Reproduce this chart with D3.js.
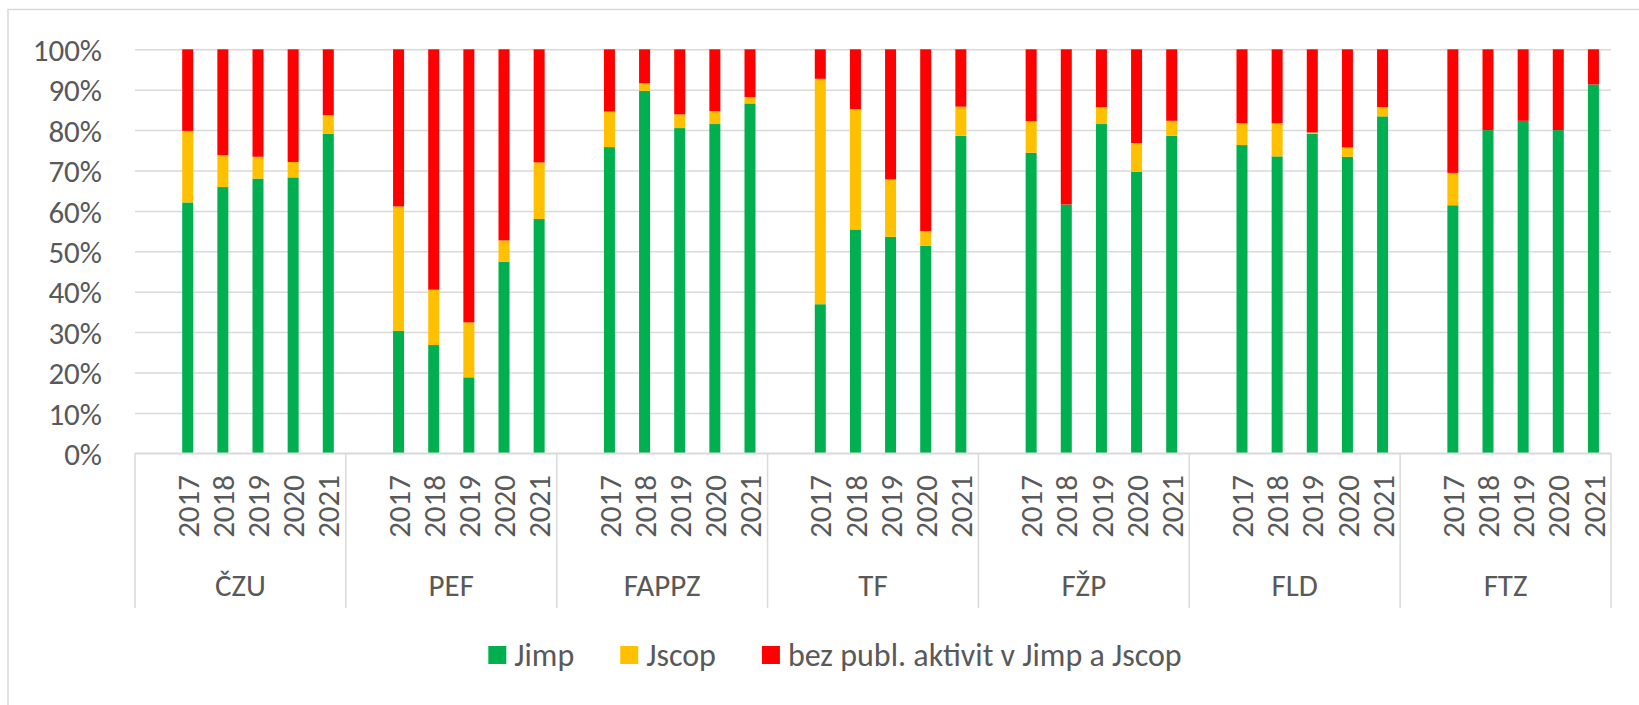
<!DOCTYPE html>
<html>
<head>
<meta charset="utf-8">
<script src="https://cdn.jsdelivr.net/npm/d3@7"></script>
<style>
  html, body { margin: 0; padding: 0; background: #fff; }
  svg { display: block; }
  text { font-family: Carlito, Lato, "Open Sans", sans-serif; fill: #595959; }
</style>
</head>
<body>
<svg id="chart"></svg>
<script>
// faculties (outer categories) and years (inner categories)
const faculties = ["ČZU", "PEF", "FAPPZ", "TF", "FŽP", "FLD", "FTZ"];
const years = ["2017", "2018", "2019", "2020", "2021"];

// share of staff in %, one row per faculty, one value per year
const jimp = [
  [62.1, 65.9, 68.0, 68.3, 79.1],
  [30.3, 26.8, 18.8, 47.4, 58.0],
  [75.8, 89.7, 80.5, 81.5, 86.6],
  [36.9, 55.4, 53.6, 51.4, 78.6],
  [74.4, 61.6, 81.5, 69.7, 78.6],
  [76.3, 73.5, 79.2, 73.4, 83.4],
  [61.4, 80.0, 82.3, 80.0, 91.3]
];
const jscop = [
  [17.7, 7.9, 5.4, 3.8, 4.6],
  [30.8, 13.7, 13.6, 5.3, 14.0],
  [8.8, 1.9, 3.4, 3.2, 1.6],
  [55.8, 29.8, 14.2, 3.6, 7.2],
  [7.8, 0.0, 4.2, 7.1, 3.7],
  [5.4, 8.2, 0.3, 2.3, 2.3],
  [8.0, 0.0, 0.0, 0.0, 0.0]
];
const bez = [
  [20.2, 26.2, 26.6, 27.9, 16.3],
  [38.9, 59.5, 67.6, 47.3, 28.0],
  [15.4, 8.4, 16.1, 15.3, 11.8],
  [7.3, 14.8, 32.2, 45.0, 14.2],
  [17.8, 38.4, 14.3, 23.2, 17.7],
  [18.3, 18.3, 20.6, 24.3, 14.3],
  [30.6, 20.0, 17.7, 20.0, 8.7]
];

const seriesKeys = ["jimp", "jscop", "bez"];
const seriesNames = ["Jimp", "Jscop", "bez publ. aktivit v Jimp a Jscop"];
const seriesColors = ["#00B050", "#FFC000", "#FF0000"];
const yTicks = [0, 0.1, 0.2, 0.3, 0.4, 0.5, 0.6, 0.7, 0.8, 0.9, 1];

const W = 1639, H = 705;
const plot = { left: 135, right: 1611, top: 49.3, bottom: 453.3 };
const gridColor = "#d9d9d9";
const fontSize = 31;

const svg = d3.select("#chart").attr("width", W).attr("height", H);

// chart area border (it runs off the right and bottom of the picture)
svg.append("rect")
  .attr("x", 8).attr("y", 9.5)
  .attr("width", W + 40).attr("height", H + 40)
  .attr("fill", "none").attr("stroke", gridColor).attr("stroke-width", 1.5);

// rows for the stack: one per faculty/year
const rows = [];
faculties.forEach((f, i) => {
  years.forEach((yr, j) => {
    rows.push({ faculty: f, year: yr, jimp: jimp[i][j], jscop: jscop[i][j], bez: bez[i][j] });
  });
});

const stacked = d3.stack().keys(seriesKeys).offset(d3.stackOffsetExpand)(rows);

// each faculty group has an empty slot in front of its five years
const slots = [""].concat(years);
const x0 = d3.scaleBand().domain(faculties).range([plot.left, plot.right]);
const x1 = d3.scaleBand().domain(slots).range([0, x0.bandwidth()])
  .paddingInner(0.687).paddingOuter(0.3435);
const y = d3.scaleLinear().domain([0, 1]).range([plot.bottom, plot.top]);

// y axis with gridlines
const yAxis = svg.append("g")
  .attr("transform", `translate(${plot.left},0)`)
  .call(d3.axisLeft(y).tickValues(yTicks)
    .tickSize(-(plot.right - plot.left)).tickPadding(33)
    .tickFormat(d => Math.round(d * 100) + "%"));
yAxis.select(".domain").remove();
yAxis.selectAll(".tick line").attr("stroke", gridColor).attr("stroke-width", 1.5);
yAxis.selectAll(".tick text")
  .attr("font-size", fontSize).attr("dy", "0.36em")
  .style("font-family", "Carlito, Lato, sans-serif").attr("fill", "#595959");

// bars
svg.append("g").selectAll("g")
  .data(stacked)
  .join("g")
  .attr("fill", (d, i) => seriesColors[i])
  .selectAll("rect")
  .data(d => d)
  .join("rect")
  .attr("x", d => x0(d.data.faculty) + x1(d.data.year))
  .attr("width", x1.bandwidth())
  .attr("y", d => y(d[1]))
  .attr("height", d => Math.max(0, y(d[0]) - y(d[1])));

// category axis: baseline, group separators, year and faculty labels
svg.append("line")
  .attr("x1", plot.left).attr("x2", plot.right)
  .attr("y1", plot.bottom).attr("y2", plot.bottom)
  .attr("stroke", gridColor).attr("stroke-width", 1.5);

const sepBottom = 608;
const seps = faculties.map(f => x0(f)).concat([x0.range()[1]]);
svg.append("g").selectAll("line")
  .data(seps)
  .join("line")
  .attr("x1", d => d).attr("x2", d => d)
  .attr("y1", plot.bottom).attr("y2", sepBottom)
  .attr("stroke", gridColor).attr("stroke-width", 1.5);

const groups = svg.append("g").selectAll("g")
  .data(faculties)
  .join("g")
  .attr("transform", d => `translate(${x0(d)},0)`);

groups.selectAll("text.year")
  .data(years)
  .join("text")
  .attr("class", "year")
  .attr("transform", d => `translate(${x1(d) + x1.bandwidth() / 2},475) rotate(-90)`)
  .attr("text-anchor", "end")
  .attr("dy", "0.36em")
  .attr("font-size", fontSize)
  .text(d => d);

groups.append("text")
  .attr("x", x0.bandwidth() / 2)
  .attr("y", 596)
  .attr("text-anchor", "middle")
  .attr("font-size", fontSize)
  .text(d => d);

// legend, centred under the chart area
const legend = svg.append("g");
const items = legend.selectAll("g")
  .data(seriesNames)
  .join("g");
items.append("rect")
  .attr("width", 18).attr("height", 18)
  .attr("y", 646)
  .attr("fill", (d, i) => seriesColors[i]);
items.append("text")
  .attr("x", 26).attr("y", 666)
  .attr("font-size", fontSize + 1)
  .text(d => d);

let cursor = 0;
items.each(function () {
  const w = 26 + d3.select(this).select("text").node().getComputedTextLength();
  d3.select(this).attr("transform", `translate(${cursor},0)`);
  cursor += w + 46;
});
const legendWidth = cursor - 46;
legend.attr("transform", `translate(${835 - legendWidth / 2},0)`);
</script>
</body>
</html>
